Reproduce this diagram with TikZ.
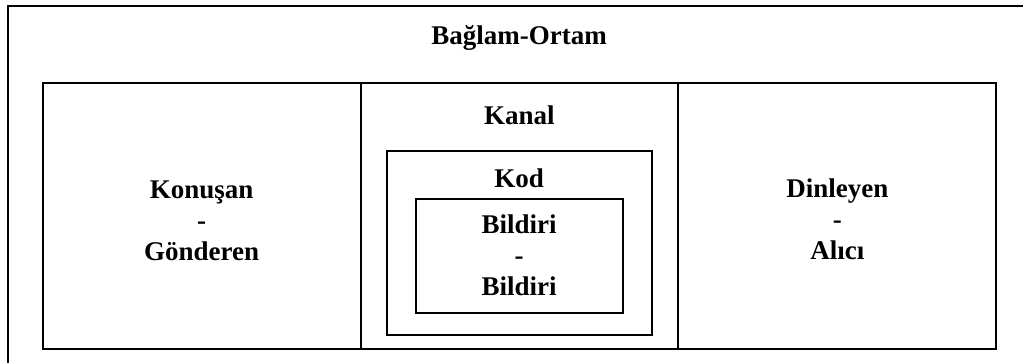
\documentclass[tikz,border=0pt]{standalone}
\usepackage{fontspec}
\setmainfont{Liberation Serif}
\begin{document}
\begin{tikzpicture}[x=1pt,y=-1pt,
  frame/.style={draw=black,line width=2pt,inner sep=0pt,outer sep=0pt,anchor=north west},
  thinframe/.style={frame,line width=1.7pt},
  label/.style={font=\bfseries\fontsize{27}{31}\selectfont,align=center,anchor=base,inner sep=0pt}]
\useasboundingbox (0,0) rectangle (1023,362);
\clip (0,0) rectangle (1023,362);
% surrounding context box (runs past the right and lower edges)
\node[frame,minimum width=1040pt,minimum height=380pt] (ortam) at (8.3,5.7) {};
% three cells of the communication row
\node[frame,minimum width=318pt,minimum height=265.7pt] (sol) at (42.7,83.3) {};
\node[frame,minimum width=317.3pt,minimum height=265.7pt] (orta) at (360.7,83.3) {};
\node[frame,minimum width=318pt,minimum height=265.7pt] (sag) at (678,83.3) {};
% nested code and message boxes
\node[thinframe,minimum width=265pt,minimum height=184.3pt] (kodkutu) at (386.7,150.7) {};
\node[frame,minimum width=207pt,minimum height=113.7pt] (bildirikutu) at (415.7,199) {};
% labels (multi-line labels are placed by the baseline of their last line)
\node[label] (baglam) at (519,44) {Bağlam-Ortam};
\node[label] (konusan) at (201.7,260.5) {Konuşan\\-\\Gönderen};
\node[label] (kanal) at (519.4,124) {Kanal};
\node[label] (kod) at (519.2,187) {Kod};
\node[label] (bildiri) at (519.2,295) {Bildiri\\-\\Bildiri};
\node[label] (dinleyen) at (837.3,259) {Dinleyen\\-\\Alıcı};
\end{tikzpicture}
\end{document}
